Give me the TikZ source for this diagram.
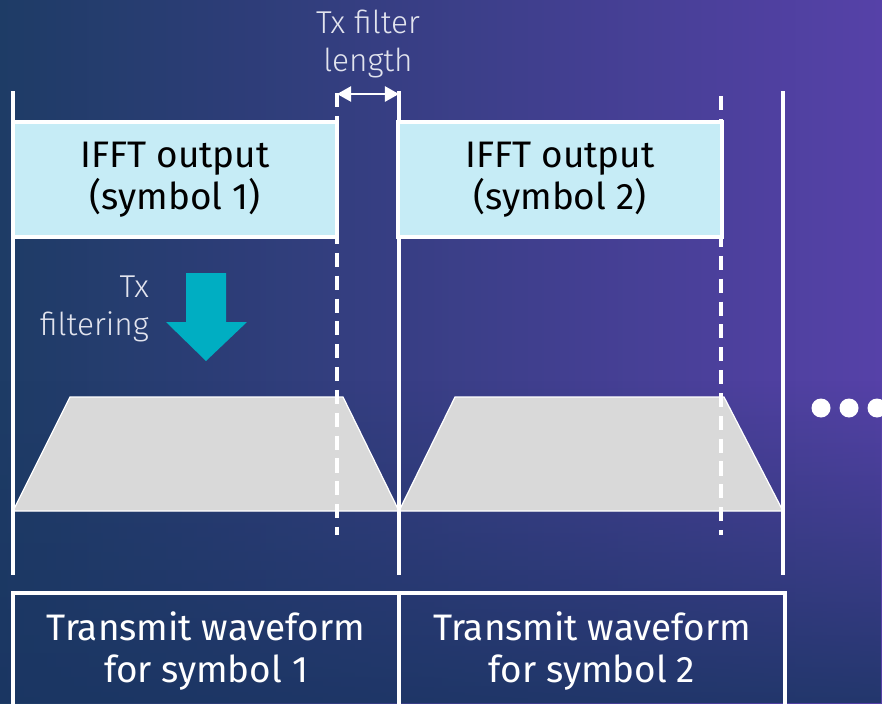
\documentclass[tikz,border=0pt]{standalone}
\usepackage{fontspec}
\setmainfont{Fira Sans}
\newfontfamily\lightfont{Fira Sans Light}
\usetikzlibrary{arrows.meta,fadings}

\definecolor{bgleft}{HTML}{1E3C66}
\definecolor{bgright}{HTML}{5641A8}
\definecolor{bgbottom}{HTML}{1A3562}
\definecolor{ifftfill}{HTML}{C6ECF6}
\definecolor{txteal}{HTML}{00AEC2}
\definecolor{wavegrey}{HTML}{D9D9D9}
\definecolor{lighttext}{HTML}{E2E4EE}

\tikzfading[name=fadeup, bottom color=transparent!0, top color=transparent!100]

\begin{document}
\begin{tikzpicture}[x=0.02cm, y=-0.02cm]
  \tikzstyle{wall} = [white, line width=2.1pt]
  \tikzstyle{guard} = [white, line width=2.1pt, dash pattern=on 8pt off 5pt]
  \tikzstyle{ifftbox} = [draw=white, line width=2.1pt, fill=ifftfill, text=black, minimum width=6.48cm, minimum height=2.3cm, align=center, font=\fontsize{21}{24}\selectfont]
  \tikzstyle{wavebox} = [draw=white, line width=2.1pt, text=white, minimum width=7.72cm, minimum height=2.32cm, align=center, font=\fontsize{21}{24}\selectfont]
  \tikzstyle{pulse} = [fill=wavegrey, draw=white, line width=0.7pt]
  \tikzstyle{note} = [text=lighttext, align=center, font=\lightfont\fontsize{18}{21.5}\selectfont]
  \tikzstyle{dot} = [circle, fill=white, minimum size=0.38cm, inner sep=0pt]

  \useasboundingbox (0,0) rectangle (882,703);
  \clip (0,0) rectangle (882,703);

  %%%%%%%%%%%%%%%%%%%%%%%%%%%%%%
  %% background
  %%%%%%%%%%%%%%%%%%%%%%%%%%%%%%
  \shade[left color=bgleft, right color=bgright] (0,0) rectangle (882,703);
  \fill[bgbottom, fill opacity=0.85, path fading=fadeup] (0,380) rectangle (882,703);

  %%%%%%%%%%%%%%%%%%%%%%%%%%%%%%
  %% filtered pulses
  %%%%%%%%%%%%%%%%%%%%%%%%%%%%%%
  \draw[pulse] (13,511) -- (70,397) -- (343,397) -- (399,511) -- cycle;
  \draw[pulse] (399,511) -- (455,397) -- (724,397) -- (783,511) -- cycle;

  %%%%%%%%%%%%%%%%%%%%%%%%%%%%%%
  %% symbol boundaries
  %%%%%%%%%%%%%%%%%%%%%%%%%%%%%%
  \coordinate (b0top) at (13,91);
  \coordinate (b0bot) at (13,575);
  \coordinate (b1top) at (399,91);
  \coordinate (b1bot) at (399,575);
  \coordinate (b2top) at (783,91);
  \coordinate (b2bot) at (783,575);
  \coordinate (g1top) at (337,93);
  \coordinate (g1bot) at (337,535);
  \coordinate (g2top) at (721,96);
  \coordinate (g2bot) at (721,535);

  \draw[wall] (b0top) -- (b0bot);
  \draw[wall] (b1top) -- (b1bot);
  \draw[wall] (b2top) -- (b2bot);
  \draw[guard] (g1top) -- (g1bot);
  \draw[guard] (g2top) -- (g2bot);

  % filter length marker
  \coordinate (lenL) at (337,94);
  \coordinate (lenR) at (399,94);
  \draw[white, line width=1.5pt, {Triangle[length=8pt,width=8.5pt]}-{Triangle[length=8pt,width=8.5pt]}] (lenL) -- (lenR);
  \node[note] (filterlen) at (368,44) {Tx filter\\length};

  %%%%%%%%%%%%%%%%%%%%%%%%%%%%%%
  %% IFFT outputs
  %%%%%%%%%%%%%%%%%%%%%%%%%%%%%%
  \node[ifftbox] (ifft1) at (175,179.5) {IFFT output\\(symbol 1)};
  \node[ifftbox] (ifft2) at (560,179.5) {IFFT output\\(symbol 2)};

  % Tx filtering
  \fill[txteal] (186,273) -- (226,273) -- (226,322) -- (247,322) -- (206,361) -- (166,322) -- (186,322) -- cycle;
  \node[note, align=right, anchor=east] (txfilt) at (155,309) {Tx\\filtering};

  \node[dot] (dot1) at (821,408) {};
  \node[dot] (dot2) at (849,408) {};
  \node[dot] (dot3) at (877,408) {};

  %%%%%%%%%%%%%%%%%%%%%%%%%%%%%%
  %% transmit waveforms
  %%%%%%%%%%%%%%%%%%%%%%%%%%%%%%
  \node[wavebox] (wave1) at (206,651) {Transmit waveform\\for symbol 1};
  \node[wavebox] (wave2) at (592,651) {Transmit waveform\\for symbol 2};
\end{tikzpicture}
\end{document}
